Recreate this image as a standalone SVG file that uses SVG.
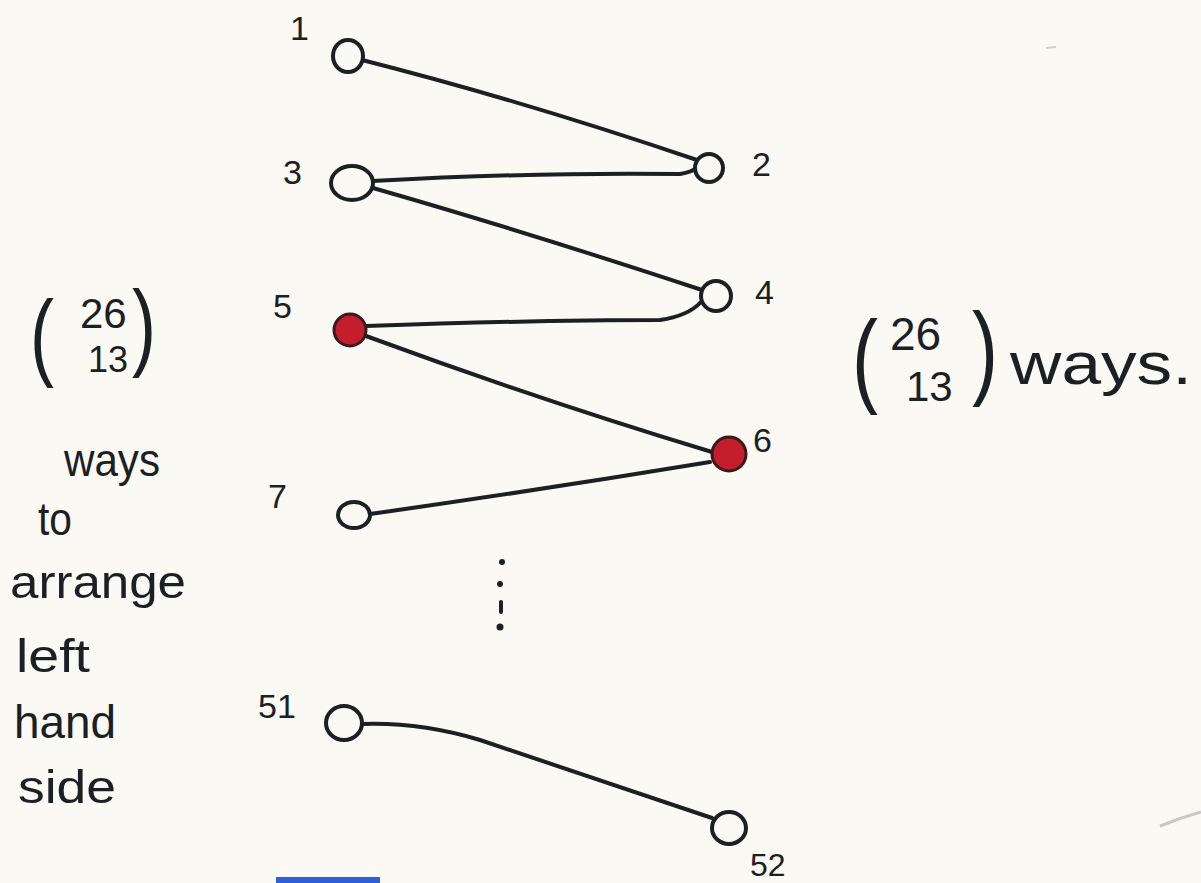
<svg xmlns="http://www.w3.org/2000/svg" width="1201" height="883" viewBox="0 0 1201 883">
<style>
.bg{fill:#fbf9f3}
.n{fill:#fbf9f3;stroke:#1b2025;stroke-width:4}
.r{fill:#c41e2c;stroke:#3a1a1e;stroke-width:3}
.e{fill:none;stroke:#1b2025;stroke-width:4;stroke-linecap:round}
.t{font-family:"Liberation Sans",Arial,sans-serif;fill:#1b2025}
.lb{font-size:34px}
.w{font-size:46px}
.p{font-family:"Liberation Sans",Arial,sans-serif;fill:#1b2025;font-weight:300}
</style>
<rect class="bg" x="0" y="0" width="1201" height="883"/>
<g id="connectors">
<path class="e" d="M362,60 Q520,100 697,160"/>
<path class="e" d="M372,181 Q540,172 680,174 Q692,172 696,168"/>
<path class="e" d="M373,188 Q520,230 702,290"/>
<path class="e" d="M366,326 Q540,320 660,320 Q688,316 701,302"/>
<path class="e" d="M366,336 Q540,400 712,452"/>
<path class="e" d="M370,514 Q540,490 710,462"/>
<path class="e" d="M362,724 Q420,722 480,740 Q600,780 712,818"/>
</g>
<g id="node1"><ellipse class="n" cx="348" cy="56" rx="15" ry="16"/><text class="t lb" x="290" y="40">1</text></g>
<g id="node2"><circle class="n" cx="709" cy="168" r="14"/><text class="t lb" x="752" y="176">2</text></g>
<g id="node3"><ellipse class="n" cx="352" cy="183" rx="21" ry="17"/><text class="t lb" x="283" y="184">3</text></g>
<g id="node4"><circle class="n" cx="716" cy="296" r="15"/><text class="t lb" x="755" y="304">4</text></g>
<g id="node5"><circle class="r" cx="350" cy="330" r="16"/><text class="t lb" x="273" y="318">5</text></g>
<g id="node6"><circle class="r" cx="729" cy="454" r="17"/><text class="t lb" x="753" y="452">6</text></g>
<g id="node7"><ellipse class="n" cx="354" cy="515" rx="16" ry="13"/><text class="t lb" x="268" y="508">7</text></g>
<g id="node51"><ellipse class="n" cx="344" cy="723" rx="18" ry="17"/><text class="t lb" x="258" y="718">51</text></g>
<g id="node52"><ellipse class="n" cx="729" cy="828" rx="17" ry="16"/><text class="t" font-size="32" x="750" y="876">52</text></g>
<g id="ellipsis" fill="#1b2025">
<circle cx="502" cy="562" r="3"/>
<circle cx="500" cy="584" r="3"/>
<rect x="499" y="600" width="4" height="14" rx="2"/>
<circle cx="500" cy="627" r="3.5"/>
</g>
<g id="left-note">
<text class="p" font-size="96" x="30" y="368" transform="translate(30 0) scale(0.75 1) translate(-30 0)">(</text>
<text class="t" font-size="42" x="80" y="328">26</text>
<text class="t" font-size="36" x="88" y="372">13</text>
<text class="p" font-size="96" x="132" y="358" transform="translate(132 0) scale(0.75 1) translate(-132 0)">)</text>
<text class="t w" x="64" y="476" textLength="96" lengthAdjust="spacingAndGlyphs">ways</text>
<text class="t w" x="38" y="535" textLength="34" lengthAdjust="spacingAndGlyphs">to</text>
<text class="t w" x="10" y="598" textLength="176" lengthAdjust="spacingAndGlyphs">arrange</text>
<text class="t w" x="16" y="672" textLength="74" lengthAdjust="spacingAndGlyphs">left</text>
<text class="t w" x="14" y="738" textLength="102" lengthAdjust="spacingAndGlyphs">hand</text>
<text class="t w" x="18" y="803" textLength="98" lengthAdjust="spacingAndGlyphs">side</text>
</g>
<g id="right-note">
<text class="p" font-size="104" x="852" y="393" transform="translate(852 0) scale(0.75 1) translate(-852 0)">(</text>
<text class="t" font-size="46" x="890" y="350">26</text>
<text class="t" font-size="42" x="906" y="401">13</text>
<text class="p" font-size="104" x="972" y="385" transform="translate(972 0) scale(0.75 1) translate(-972 0)">)</text>
<text class="t" font-size="60" x="1010" y="384" textLength="182" lengthAdjust="spacingAndGlyphs">ways.</text>
</g>
<path d="M276,880 L380,880" stroke="#2f5fd6" stroke-width="6" fill="none"/>
<path d="M1160,826 Q1180,818 1201,812" stroke="#c8c8c8" stroke-width="3" fill="none"/>
<path d="M1046,48 L1056,47" stroke="#cfcfcf" stroke-width="2" fill="none"/>
</svg>
